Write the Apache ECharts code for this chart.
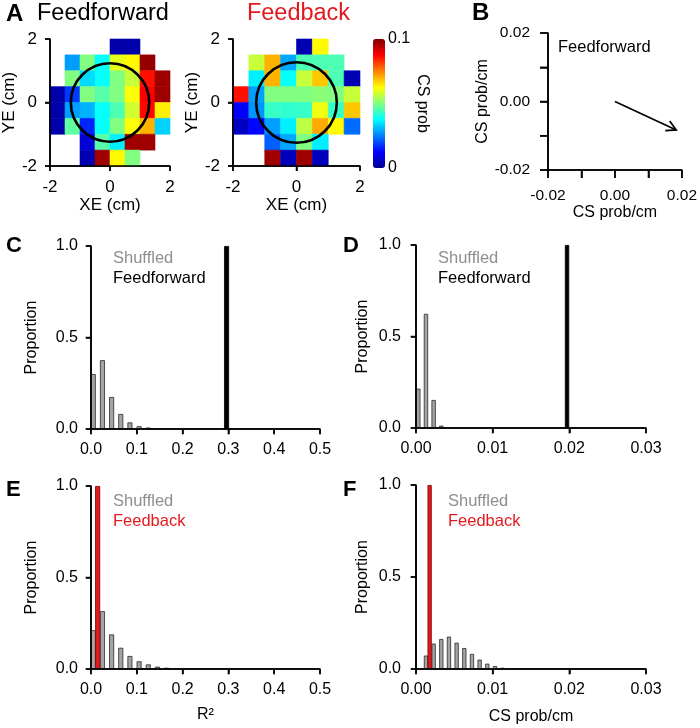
<!DOCTYPE html>
<html><head><meta charset="utf-8">
<script src="https://cdn.jsdelivr.net/npm/echarts@6/dist/echarts.min.js"></script>
<style>html,body{margin:0;padding:0;background:#fff}#c{width:700px;height:728px}</style>
</head><body><div id="c"></div>
<script>
// ---------- data ----------
const cellCentersX = [-1.75, -1.25, -0.75, -0.25, 0.25, 0.75, 1.25, 1.75];
const cellCentersY = [1.75, 1.25, 0.75, 0.25, -0.25, -0.75, -1.25, -1.75];
const cellSize = 0.5;
// rows top (YE=1.75) to bottom (YE=-1.75); null = no data
const feedforwardMap = [
  [null, null, null, null, 0.003, 0.003, null, null],
  [null, 0.028, 0.050, 0.038, 0.060, 0.063, 0.098, null],
  [null, 0.050, 0.034, 0.038, 0.050, 0.057, 0.086, 0.097],
  [0.003, 0.018, 0.050, 0.046, 0.050, 0.062, 0.088, 0.097],
  [0.003, 0.028, 0.030, 0.038, 0.045, 0.058, 0.087, 0.064],
  [0.003, 0.047, 0.016, 0.038, 0.050, 0.062, 0.070, 0.033],
  [null, null, 0.008, 0.046, 0.036, 0.097, 0.097, null],
  [null, null, 0.004, 0.097, 0.063, 0.050, null, null]
];
const feedbackMap = [
  [null, null, null, null, 0.004, 0.063, null, null],
  [null, 0.057, 0.070, 0.029, 0.045, 0.045, 0.045, null],
  [null, 0.036, 0.070, 0.038, 0.057, 0.068, 0.045, 0.004],
  [0.086, 0.028, 0.050, 0.050, 0.050, 0.051, 0.050, 0.057],
  [0.012, 0.027, 0.043, 0.042, 0.043, 0.061, 0.043, 0.068],
  [0.006, 0.013, 0.028, 0.036, 0.056, 0.071, 0.063, 0.023],
  [null, null, 0.022, 0.029, 0.050, 0.036, null, null],
  [null, null, 0.097, 0.005, 0.097, 0.005, null, null]
];
const circle = [0, 0, 1.27]; // center x, center y, radius (cm)
const colorbarRange = [0, 0.1];

const vectorFeedforward = [0, 0, 0.0183, -0.0083]; // x0, y0, x1, y1

const rsqBins = [0.005, 0.025, 0.045, 0.065, 0.085, 0.105, 0.125, 0.145, 0.165];
const shuffledRsqFF = [0.300, 0.376, 0.175, 0.082, 0.036, 0.015, 0.008];
const feedforwardRsq = 0.296;
const shuffledRsqFB = [0.212, 0.316, 0.189, 0.116, 0.071, 0.042, 0.025, 0.013, 0.007];
const feedbackRsq = 0.0145;

const slopeBins = [0.0003, 0.0013, 0.0023, 0.0033, 0.0043, 0.0053, 0.0063, 0.0073, 0.0083, 0.0093, 0.0103, 0.0113];
const shuffledSlopeFF = [0.215, 0.624, 0.153, 0.013];
const feedforwardSlope = 0.0197;
const shuffledSlopeFB = [0.005, 0.073, 0.138, 0.163, 0.176, 0.143, 0.114, 0.082, 0.051, 0.029, 0.016, 0.007];
const feedbackSlope = 0.00178;

// tick positions
const heatTicks = [-2, 0, 2];
const vectorTicks = [-0.02, -0.01, 0, 0.01, 0.02];
const rsqTicks = [0, 0.1, 0.2, 0.3, 0.4, 0.5];
const slopeTicks = [0, 0.01, 0.02, 0.03];
const proportionTicks = [0, 0.5, 1.0];

// ---------- styles ----------
const FONT = '"Liberation Sans", Arial, Helvetica, sans-serif';
const RED = '#e3191f';
const GRAY_TXT = '#8e8e8e';
const jet = ['#00008f', '#0000ff', '#0080ff', '#00ffff', '#80ff80', '#ffff00', '#ff8000', '#ff0000', '#800000'];

function mapToData(map) {
  const out = [];
  map.forEach((row, r) => row.forEach((v, c) => {
    if (v !== null) out.push([cellCentersX[c], cellCentersY[r], v]);
  }));
  return out;
}

function axis(o) {
  const a = {
    type: 'value', gridIndex: o.grid, min: o.min, max: o.max, interval: o.interval,
    name: o.name || '', nameLocation: 'middle', nameGap: o.nameGap || 20,
    nameTextStyle: { color: '#000', fontSize: o.nameSize || 16, fontFamily: FONT },
    axisLine: { show: true, lineStyle: { color: '#000', width: 1.6 } },
    axisTick: { show: true, length: o.tick || 5, lineStyle: { color: '#000', width: 1.6 } },
    axisLabel: { show: true, color: '#000', fontSize: o.labelSize || 16, fontFamily: FONT, margin: o.margin || 13,
      formatter: o.fmt },
    splitLine: { show: false }
  };
  if (o.onZeroTo !== undefined) a.axisLine.onZeroAxisIndex = o.onZeroTo;
  if (o.position) a.position = o.position;
  if (o.nameRotate !== undefined) a.nameRotate = o.nameRotate;
  return a;
}
function auxAxis(grid) {
  return { type: 'value', gridIndex: grid, min: 0, max: 1, show: false };
}

const heatRender = (params, api) => {
  const x = api.value(0), y = api.value(1);
  const a = api.coord([x - cellSize / 2, y + cellSize / 2]);
  const b = api.coord([x + cellSize / 2, y - cellSize / 2]);
  const col = api.visual('color');
  return { type: 'rect', shape: { x: a[0], y: a[1], width: b[0] - a[0], height: b[1] - a[1] },
    style: { fill: col, stroke: col, lineWidth: 0.6 } };
};
const circleRender = (params, api) => {
  const c = api.coord([api.value(0), api.value(1)]);
  const s = api.size([api.value(2), api.value(2)]);
  return { type: 'circle', shape: { cx: c[0], cy: c[1], r: (s[0] + s[1]) / 2 },
    style: { fill: null, stroke: '#000', lineWidth: 2.6 } };
};
const arrowRender = (params, api) => {
  const p0 = api.coord([api.value(0), api.value(1)]);
  const p1 = api.coord([api.value(2), api.value(3)]);
  const ang = Math.atan2(p1[1] - p0[1], p1[0] - p0[0]);
  const L = 11, a = 0.5;
  const h1 = [p1[0] - L * Math.cos(ang - a), p1[1] - L * Math.sin(ang - a)];
  const h2 = [p1[0] - L * Math.cos(ang + a), p1[1] - L * Math.sin(ang + a)];
  return { type: 'group', children: [
    { type: 'line', shape: { x1: p0[0], y1: p0[1], x2: p1[0], y2: p1[1] }, style: { stroke: '#000', lineWidth: 1.7 } },
    { type: 'polyline', shape: { points: [h1, p1, h2] }, style: { stroke: '#000', lineWidth: 1.7, fill: null } }
  ] };
};
// axis frame (L shape) + outward tick marks, drawn as series on the grid's own scales
function frameSeries(idx, xTicks, yTicks, len) {
  const x0 = xTicks[0], x1 = xTicks[xTicks.length - 1], y0 = yTicks[0], y1 = yTicks[yTicks.length - 1];
  return [
    { type: 'line', xAxisIndex: idx, yAxisIndex: idx, data: [[x1, y0], [x0, y0], [x0, y1]],
      symbol: 'none', lineStyle: { color: '#000', width: 1.6 }, silent: true, clip: false, z: 6 },
    { type: 'scatter', xAxisIndex: idx, yAxisIndex: idx, data: xTicks.map(v => [v, y0]),
      symbol: 'rect', symbolSize: [1.6, len], symbolOffset: [0, len / 2],
      itemStyle: { color: '#000' }, silent: true, clip: false, z: 6 },
    { type: 'scatter', xAxisIndex: idx, yAxisIndex: idx, data: yTicks.map(v => [x0, v]),
      symbol: 'rect', symbolSize: [len, 1.6], symbolOffset: [-len / 2, 0],
      itemStyle: { color: '#000' }, silent: true, clip: false, z: 6 }
  ];
}

const f1 = v => v.toFixed(1);
const f2 = v => (Math.abs(v) < 1e-9 ? 0 : v).toFixed(2);
const heatFmt = v => String(Math.round(v));
const bFmt = v => { const k = Math.round(v * 100); return k % 2 === 0 ? (k / 100 === 0 ? 0 : k / 100).toFixed(2) : ''; };

const grids = [
  { left: 43, top: 39, width: 127, height: 127 },    // 0 A FF
  { left: 233, top: 39, width: 127, height: 127 },   // 1 A FB
  { left: 373, top: 39, width: 12, height: 129 },    // 2 colorbar
  { left: 548, top: 33, width: 138, height: 137 },   // 3 B
  { left: 91, top: 246, width: 229, height: 183 },   // 4 C
  { left: 416, top: 245, width: 230, height: 183 },  // 5 D
  { left: 91, top: 486, width: 229, height: 183 },   // 6 E
  { left: 416, top: 485, width: 230, height: 184 }   // 7 F
];

// colorbar grid: hidden x axis that does not span zero, so the label axis stays on the right
const cbX = { type: 'value', gridIndex: 2, min: 1, max: 2, show: false };
const cbY = axis({ grid: 2, min: colorbarRange[0], max: colorbarRange[1], interval: 0.1, position: 'right',
  name: 'CS prob', nameGap: 21, nameRotate: -90, fmt: v => (v === 0 ? '0' : '0.1'), margin: 3, labelSize: 16 });
cbY.axisLine = { show: false };
cbY.axisTick = { show: false };

// indexes 8, 9, 10 are invisible helper axes (0..1) so the axes sit at the grid edge
const xAxes = [
  axis({ grid: 0, min: -2, max: 2, interval: 2, name: 'XE (cm)', nameGap: 25, fmt: heatFmt, labelSize: 17, nameSize: 17, onZeroTo: 8 }),
  axis({ grid: 1, min: -2, max: 2, interval: 2, name: 'XE (cm)', nameGap: 25, fmt: heatFmt, labelSize: 17, nameSize: 17, onZeroTo: 9 }),
  cbX,
  axis({ grid: 3, min: -0.02, max: 0.02, interval: 0.01, name: 'CS prob/cm', nameGap: 34, fmt: bFmt, tick: 8, margin: 18, labelSize: 15.5, onZeroTo: 10 }),
  axis({ grid: 4, min: 0, max: 0.5, interval: 0.1, fmt: f1 }),
  axis({ grid: 5, min: 0, max: 0.03, interval: 0.01, fmt: f2 }),
  axis({ grid: 6, min: 0, max: 0.5, interval: 0.1, fmt: f1, name: 'R²', nameGap: 38 }),
  axis({ grid: 7, min: 0, max: 0.03, interval: 0.01, fmt: f2, name: 'CS prob/cm', nameGap: 40 }),
  auxAxis(0), auxAxis(1), auxAxis(3)
];
const yAxes = [
  axis({ grid: 0, min: -2, max: 2, interval: 2, name: 'YE (cm)', nameGap: 28, fmt: heatFmt, labelSize: 17, nameSize: 17, onZeroTo: 8 }),
  axis({ grid: 1, min: -2, max: 2, interval: 2, name: 'YE (cm)', nameGap: 28, fmt: heatFmt, labelSize: 17, nameSize: 17, onZeroTo: 9 }),
  cbY,
  axis({ grid: 3, min: -0.02, max: 0.02, interval: 0.01, name: 'CS prob/cm', nameGap: 57, fmt: bFmt, tick: 8, margin: 18, labelSize: 15.5, onZeroTo: 10 }),
  axis({ grid: 4, min: 0, max: 1, interval: 0.5, fmt: f1, name: 'Proportion', nameGap: 51, margin: 13 }),
  axis({ grid: 5, min: 0, max: 1, interval: 0.5, fmt: f1, name: 'Proportion', nameGap: 45, margin: 15 }),
  axis({ grid: 6, min: 0, max: 1, interval: 0.5, fmt: f1, name: 'Proportion', nameGap: 51, margin: 13 }),
  axis({ grid: 7, min: 0, max: 1, interval: 0.5, fmt: f1, name: 'Proportion', nameGap: 45, margin: 15 }),
  auxAxis(0), auxAxis(1), auxAxis(3)
];

const grayBar = { color: '#a4a4a4', borderColor: '#2a2a2a', borderWidth: 0.8 };
function bars(idx, xs, hs, w) {
  return { type: 'bar', xAxisIndex: idx, yAxisIndex: idx, barWidth: w, barGap: '-100%',
    data: hs.map((h, i) => [xs[i], h]), itemStyle: grayBar, silent: true };
}
function bigBar(idx, x, color, border, w) {
  return { type: 'bar', xAxisIndex: idx, yAxisIndex: idx, barWidth: w, barGap: '-100%',
    data: [[x, 1.0]], itemStyle: { color: color, borderColor: border, borderWidth: 0.8 }, silent: true };
}

const series = [
  { type: 'custom', xAxisIndex: 0, yAxisIndex: 0, data: mapToData(feedforwardMap), renderItem: heatRender,
    encode: { x: 0, y: 1 }, dimensions: ['x', 'y', 'v'], silent: true },
  { type: 'custom', xAxisIndex: 1, yAxisIndex: 1, data: mapToData(feedbackMap), renderItem: heatRender,
    encode: { x: 0, y: 1 }, dimensions: ['x', 'y', 'v'], silent: true },
  { type: 'custom', xAxisIndex: 0, yAxisIndex: 0, data: [circle], renderItem: circleRender, encode: { x: 0, y: 1 }, silent: true, z: 3 },
  { type: 'custom', xAxisIndex: 1, yAxisIndex: 1, data: [circle], renderItem: circleRender, encode: { x: 0, y: 1 }, silent: true, z: 3 },
  { type: 'custom', xAxisIndex: 3, yAxisIndex: 3, data: [vectorFeedforward], renderItem: arrowRender,
    encode: { x: [0, 2], y: [1, 3] }, silent: true },
  bars(4, rsqBins, shuffledRsqFF, 5),
  bigBar(4, feedforwardRsq, '#000', '#000', 5),
  bars(5, slopeBins, shuffledSlopeFF, 4.3),
  bigBar(5, feedforwardSlope, '#000', '#000', 4.3),
  bars(6, rsqBins, shuffledRsqFB, 5),
  bigBar(6, feedbackRsq, RED, '#7a0000', 5),
  bars(7, slopeBins, shuffledSlopeFB, 4.2),
  bigBar(7, feedbackSlope, RED, '#7a0000', 4.2)
].concat(
  frameSeries(0, heatTicks, heatTicks, 5),
  frameSeries(1, heatTicks, heatTicks, 5),
  frameSeries(3, vectorTicks, vectorTicks, 8),
  frameSeries(4, rsqTicks, proportionTicks, 5.5),
  frameSeries(5, slopeTicks, proportionTicks, 5.5),
  frameSeries(6, rsqTicks, proportionTicks, 5.5),
  frameSeries(7, slopeTicks, proportionTicks, 5.5)
);

function txt(x, y, s, size, opt) {
  opt = opt || {};
  return { type: 'text', x: x, y: y, silent: true, z: 10,
    style: { text: s, fontSize: size, fontFamily: FONT, fontWeight: opt.bold ? 'bold' : 'normal',
      fill: opt.color || '#000', align: opt.align || 'left', verticalAlign: 'middle' } };
}

const graphic = [
  txt(6, 14, 'A', 24, { bold: true }),
  txt(37, 14, 'Feedforward', 23.5),
  txt(298.5, 14, 'Feedback', 23.5, { color: RED, align: 'center' }),
  txt(472, 13, 'B', 24, { bold: true }),
  txt(558, 47.5, 'Feedforward', 16.5),
  txt(6, 245.5, 'C', 22, { bold: true }),
  txt(113, 258, 'Shuffled', 16.5, { color: GRAY_TXT }),
  txt(113, 278.5, 'Feedforward', 16.5),
  txt(343, 245.5, 'D', 22, { bold: true }),
  txt(438, 258, 'Shuffled', 16.5, { color: GRAY_TXT }),
  txt(438, 278.5, 'Feedforward', 16.5),
  txt(6, 490, 'E', 22, { bold: true }),
  txt(113, 501.5, 'Shuffled', 16.5, { color: GRAY_TXT }),
  txt(113, 521.5, 'Feedback', 16.5, { color: RED }),
  txt(343, 490, 'F', 22, { bold: true }),
  txt(448, 501.5, 'Shuffled', 16.5, { color: GRAY_TXT }),
  txt(448, 521.5, 'Feedback', 16.5, { color: RED })
];

const chart = echarts.init(document.getElementById('c'), null, { renderer: 'canvas' });
chart.setOption({
  backgroundColor: '#fff',
  animation: false,
  textStyle: { fontFamily: FONT },
  grid: grids,
  xAxis: xAxes,
  yAxis: yAxes,
  visualMap: [{
    type: 'continuous', min: colorbarRange[0], max: colorbarRange[1], seriesIndex: [0, 1], dimension: 2,
    inRange: { color: jet }, orient: 'vertical', left: 373, top: 39, itemWidth: 12, itemHeight: 129,
    calculable: false, padding: 0, text: null, hoverLink: false, realtime: false
  }],
  series: series,
  graphic: graphic
});
</script></body></html>
